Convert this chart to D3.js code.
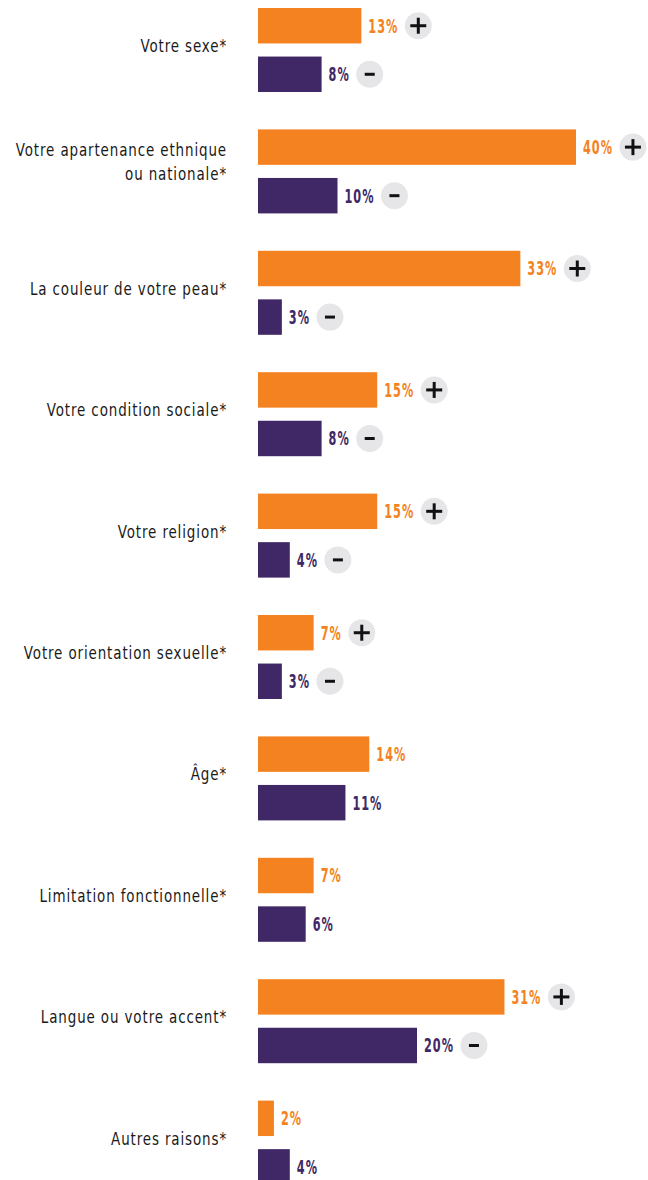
<!DOCTYPE html>
<html>
<head>
<meta charset="utf-8">
<script src="https://cdn.jsdelivr.net/npm/d3@7"></script>
<style>
  body { margin: 0; background: #fff; }
  svg text { font-family: "DejaVu Sans Condensed", "Liberation Sans Narrow", sans-serif; }
</style>
</head>
<body>
<div id="chart"></div>
<script>
// categories (line breaks with |)
var categories = [
  "Votre sexe*",
  "Votre apartenance ethnique|ou nationale*",
  "La couleur de votre peau*",
  "Votre condition sociale*",
  "Votre religion*",
  "Votre orientation sexuelle*",
  "Âge*",
  "Limitation fonctionnelle*",
  "Langue ou votre accent*",
  "Autres raisons*"
];
var orangeVals = [13, 40, 33, 15, 15, 7, 14, 7, 31, 2];
var purpleVals = [8, 10, 3, 8, 4, 3, 11, 6, 20, 4];
// significance markers: true = show +/- badge
var showSign = [true, true, true, true, true, true, false, false, true, false];

var W = 648, H = 1180;
var orange = "#f58220", purple = "#402765";
var squeeze = 0.66; // condensed look for value labels

var svg = d3.select("#chart").append("svg")
    .attr("width", W)
    .attr("height", H);

var x = d3.scaleLinear().domain([0, 40]).range([258, 576]);

var y = d3.scaleBand()
    .domain(categories)
    .range([8, 1184.6])
    .paddingInner(0.308);

var sub = d3.scaleBand()
    .domain(["o", "p"])
    .range([0, y.bandwidth()])
    .paddingInner(0.27);

var rows = categories.map(function (c, i) {
  return [
    {cat: c, key: "o", v: orangeVals[i], color: orange, sign: showSign[i] ? "+" : null},
    {cat: c, key: "p", v: purpleVals[i], color: purple, sign: showSign[i] ? "-" : null}
  ];
});
var bars = d3.merge(rows);

// category labels
var lab = svg.append("g").selectAll("text")
    .data(categories)
    .enter().append("text")
    .attr("text-anchor", "end")
    .attr("fill", "#1a1a1a")
    .style("font-size", "17px")
    .style("letter-spacing", "1px")
    .attr("transform", function (d) {
      var n = d.split("|").length;
      return "translate(227," + (y(d) + y.bandwidth() / 2 - 4 - (n - 1) * 5) + ") scale(0.88,1)";
    });

lab.each(function (d) {
  var lines = d.split("|");
  var t = d3.select(this);
  lines.forEach(function (l, j) {
    t.append("tspan")
      .attr("x", 0)
      .attr("y", (j - (lines.length - 1) / 2) * 24)
      .attr("dy", "0.35em")
      .text(l);
  });
});

// bars
svg.append("g").selectAll("rect")
    .data(bars)
    .enter().append("rect")
    .attr("x", x(0))
    .attr("y", function (d) { return y(d.cat) + sub(d.key); })
    .attr("width", function (d) { return x(d.v) - x(0); })
    .attr("height", sub.bandwidth())
    .attr("fill", function (d) { return d.color; });

// value labels + badges
var vg = svg.append("g").selectAll("g")
    .data(bars)
    .enter().append("g")
    .attr("transform", function (d) {
      return "translate(" + (x(d.v) + 7) + "," + (y(d.cat) + sub(d.key) + sub.bandwidth() / 2) + ")";
    });

vg.append("text")
    .attr("dy", "0.36em")
    .attr("transform", "scale(" + squeeze + ",1)")
    .attr("fill", function (d) { return d.color; })
    .style("font-size", "19px")
    .style("font-weight", "bold")
    .style("letter-spacing", "1.5px")
    .text(function (d) { return d.v + "%"; });

vg.each(function (d) {
  if (!d.sign) return;
  var g = d3.select(this);
  var tw = g.select("text").node().getComputedTextLength() * squeeze;
  var cx = tw + 20;
  g.append("circle")
    .attr("cx", cx)
    .attr("cy", 0)
    .attr("r", 13.5)
    .attr("fill", "#e6e6e8");
  var h = d.sign === "+" ? 8 : 5;
  g.append("line")
    .attr("x1", cx - h).attr("x2", cx + h)
    .attr("y1", 0).attr("y2", 0)
    .attr("stroke", "#111")
    .attr("stroke-width", 3);
  if (d.sign === "+") {
    g.append("line")
      .attr("x1", cx).attr("x2", cx)
      .attr("y1", -h).attr("y2", h)
      .attr("stroke", "#111")
      .attr("stroke-width", 3);
  }
});
</script>
</body>
</html>
